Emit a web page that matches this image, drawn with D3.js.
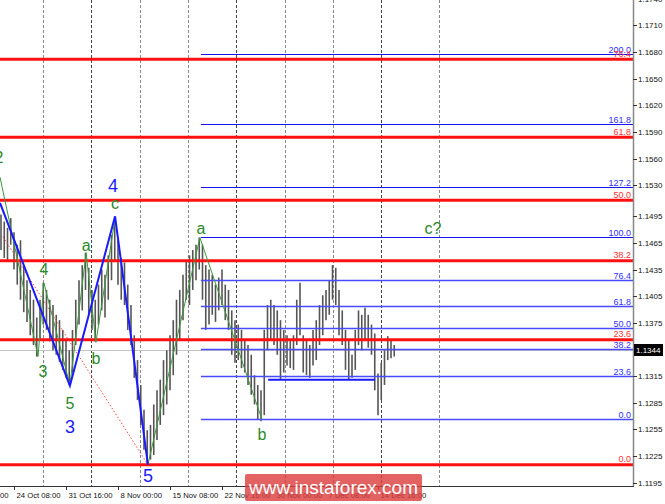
<!DOCTYPE html>
<html><head><meta charset="utf-8">
<script src="https://cdn.jsdelivr.net/npm/d3@7"></script>
<style>html,body{margin:0;padding:0;background:#fff;}svg{display:block;}</style>
</head><body>
<svg id="c" width="665" height="504"></svg>
<script>
// ---- data ----
const highs = [1.1497,1.1489,1.1482,1.1493,1.1477,1.1463,1.1468,1.1440,1.1423,1.1412,1.1401,1.1381,1.1401,1.1420,1.1412,1.1401,1.1395,1.1384,1.1378,1.1367,1.1356,1.1344,1.1367,1.1401,1.1423,1.1440,1.1454,1.1437,1.1412,1.1401,1.1418,1.1435,1.1429,1.1451,1.1474,1.1493,1.1468,1.1448,1.1443,1.1418,1.1395,1.1361,1.1333,1.1305,1.1277,1.1254,1.1260,1.1283,1.1299,1.1311,1.1333,1.1344,1.1361,1.1378,1.1401,1.1412,1.1429,1.1446,1.1451,1.1457,1.1463,1.1471,1.1463,1.1440,1.1435,1.1429,1.1418,1.1426,1.1435,1.1418,1.1412,1.1389,1.1378,1.1373,1.1367,1.1356,1.1350,1.1339,1.1316,1.1305,1.1299,1.1367,1.1395,1.1401,1.1395,1.1389,1.1378,1.1367,1.1361,1.1356,1.1361,1.1401,1.1420,1.1361,1.1356,1.1350,1.1367,1.1378,1.1395,1.1406,1.1412,1.1423,1.1440,1.1437,1.1412,1.1389,1.1367,1.1356,1.1339,1.1367,1.1389,1.1384,1.1392,1.1384,1.1373,1.1363,1.1318,1.1330,1.1344,1.1360,1.1356,1.1350];
const lows = [1.1457,1.1448,1.1444,1.1463,1.1435,1.1418,1.1401,1.1387,1.1376,1.1361,1.1350,1.1337,1.1356,1.1373,1.1367,1.1354,1.1344,1.1339,1.1331,1.1322,1.1313,1.1305,1.1319,1.1350,1.1373,1.1389,1.1412,1.1384,1.1367,1.1354,1.1373,1.1389,1.1381,1.1401,1.1423,1.1444,1.1418,1.1401,1.1395,1.1367,1.1350,1.1313,1.1288,1.1260,1.1232,1.1215,1.1221,1.1226,1.1243,1.1260,1.1271,1.1283,1.1299,1.1316,1.1339,1.1356,1.1378,1.1401,1.1395,1.1412,1.1423,1.1435,1.1401,1.1367,1.1373,1.1384,1.1376,1.1389,1.1395,1.1378,1.1367,1.1339,1.1330,1.1333,1.1324,1.1319,1.1305,1.1294,1.1283,1.1266,1.1264,1.1271,1.1344,1.1356,1.1350,1.1339,1.1311,1.1319,1.1327,1.1324,1.1322,1.1350,1.1361,1.1319,1.1316,1.1313,1.1327,1.1333,1.1350,1.1361,1.1378,1.1384,1.1401,1.1395,1.1361,1.1350,1.1322,1.1311,1.1313,1.1322,1.1350,1.1344,1.1356,1.1347,1.1339,1.1299,1.1271,1.1288,1.1305,1.1333,1.1335,1.1337];

const priceTicks = [1.1740,1.1710,1.1680,1.1650,1.1620,1.1590,1.1560,1.1530,1.1495,1.1465,1.1435,1.1405,1.1375,1.1315,1.1285,1.1255,1.1225,1.1195];
const timeLabels = ["17 Oct 00:00","24 Oct 08:00","31 Oct 16:00","8 Nov 00:00","15 Nov 08:00","22 Nov 16:00","30 Nov 00:00","7 Dec 08:00","14 Dec 16:00"];
const timeLabelIdx = [-12,4,20,36,52,68,84,100,116];
const gridIdx = [12.92,27.69,42.77,57.54,72.31,87.38,102.15,116.92,134.77];

const redFibLevels = ["0.0","23.6","38.2","50.0","61.8","76.4"];
const redFibPrices = [1.1215,1.1356,1.1445,1.1513,1.1584,1.1672];
const blueFibLevels = ["0.0","23.6","38.2","50.0","61.8","76.4","100.0","127.2","161.8","200.0"];
const blueFibPrices = [1.12667,1.13151,1.13455,1.13692,1.13940,1.14233,1.14717,1.15280,1.15989,1.16778];
const blueFibStartIdx = 61.5;

const currentPrice = 1.1344;

const greenWaveIdx = [-0.3,11.4,13.2,21.2,26.2,29.2,35.1];
const greenWavePrice = [1.1539,1.1337,1.1420,1.1305,1.1454,1.1353,1.1493];
const greenWave2Idx = [45.2,61.2,80.3];
const greenWave2Price = [1.1215,1.1471,1.1266];
const blueWaveIdx = [-0.3,21.2,35.1,45.2];
const blueWavePrice = [1.1510,1.1304,1.1495,1.1215];
const redDotIdx = [0.6,44.9];
const redDotPrice = [1.1472,1.1217];
const supportIdx = [82.2,115.1];
const supportPrice = 1.1311;

const greenLabels = ["2","4","3","5","a","b","c","a","b","c?"];
const greenLabelIdx = [-0.6,13.2,12.9,21.2,26.2,29.2,35.1,61.5,80.3,132.9];
const greenLabelPrice = [1.1561,1.1435,1.1320,1.1284,1.1462,1.1335,1.1509,1.1481,1.1249,1.1481];
const blueLabels = ["3","4","5"];
const blueLabelIdx = [21.2,34.5,45.2];
const blueLabelPrice = [1.1258,1.1529,1.1203];

// ---- layout ----
const W = 665, H = 504, plotR = 633, plotB = 486;
const svg = d3.select("#c");
svg.append("rect").attr("width",W).attr("height",H).attr("fill","#fff");

const x = d3.scaleLinear().domain([-1/3.25, 632/3.25]).range([0, plotR]);
const y = d3.scaleLinear().domain([1.11912, 1.17386]).range([plotB, 0]);

const plot = svg.append("g");
plot.append("clipPath").attr("id","clip").append("rect").attr("x",0).attr("y",0).attr("width",plotR).attr("height",plotB);
const g = plot.append("g").attr("clip-path","url(#clip)");

// grid
g.selectAll(".grid").data(gridIdx).join("line")
  .attr("x1",d=>Math.round(x(d))+0.5).attr("x2",d=>Math.round(x(d))+0.5)
  .attr("y1",0).attr("y2",plotB)
  .attr("stroke",(d,i)=> i%3===1 ? "#444" : "#888").attr("stroke-width",1).attr("stroke-dasharray","3,2");

// current price line
g.append("line").attr("x1",0).attr("x2",plotR)
  .attr("y1",Math.round(y(currentPrice))+0.5).attr("y2",Math.round(y(currentPrice))+0.5)
  .attr("stroke","#c4c4c4").attr("stroke-width",1);

// bars
const bars = highs.map((h,i)=>({i,h,l:lows[i]}));
g.selectAll(".bar").data(bars).join("line")
  .attr("x1",d=>x(d.i)).attr("x2",d=>x(d.i))
  .attr("y1",d=>y(d.h)).attr("y2",d=>y(d.l))
  .attr("stroke","#555").attr("stroke-width",1.6);

// blue fib lines
blueFibPrices.forEach((p,k)=>{
  const strong = k>=6;
  g.append("line").attr("x1",x(blueFibStartIdx)).attr("x2",plotR)
    .attr("y1",Math.round(y(p))+0.5).attr("y2",Math.round(y(p))+0.5)
    .attr("stroke",strong?"#1414f0":"#4a4aff").attr("stroke-width",strong?1:1.3);
});
// red lines
redFibPrices.forEach(p=>{
  g.append("line").attr("x1",0).attr("x2",plotR)
    .attr("y1",y(p)).attr("y2",y(p))
    .attr("stroke","#ff1010").attr("stroke-width",3);
});

// support line
g.append("line").attr("x1",x(supportIdx[0])).attr("x2",x(supportIdx[1]))
  .attr("y1",y(supportPrice)).attr("y2",y(supportPrice))
  .attr("stroke","#1a1aff").attr("stroke-width",2);

// red dotted
g.append("line").attr("x1",x(redDotIdx[0])).attr("x2",x(redDotIdx[1]))
  .attr("y1",y(redDotPrice[0])).attr("y2",y(redDotPrice[1]))
  .attr("stroke","#ff4040").attr("stroke-width",1).attr("stroke-dasharray","1.5,2");

const line = d3.line().x(d=>x(d[0])).y(d=>y(d[1]));
g.append("path").attr("d",line(greenWaveIdx.map((d,i)=>[d,greenWavePrice[i]])))
  .attr("fill","none").attr("stroke","#3a9a3a").attr("stroke-width",1);
g.append("path").attr("d",line(greenWave2Idx.map((d,i)=>[d,greenWave2Price[i]])))
  .attr("fill","none").attr("stroke","#3a9a3a").attr("stroke-width",1);
g.append("path").attr("d",line(blueWaveIdx.map((d,i)=>[d,blueWavePrice[i]])))
  .attr("fill","none").attr("stroke","#1a1aff").attr("stroke-width",2);

// fib text labels
const fibFont = "Liberation Sans, Arial, sans-serif";
blueFibPrices.forEach((p,k)=>{
  svg.append("text").attr("x",631).attr("y",Math.round(y(p))-1.5)
    .attr("text-anchor","end").attr("font-family",fibFont).attr("font-size",9)
    .attr("fill","#3030ff").text(blueFibLevels[k]);
});
redFibPrices.forEach((p,k)=>{
  svg.append("text").attr("x",631).attr("y",y(p)-2.5)
    .attr("text-anchor","end").attr("font-family",fibFont).attr("font-size",9)
    .attr("fill","#ff3030").text(redFibLevels[k]);
});

// wave labels
const lblFont = "Liberation Sans, Arial, sans-serif";
greenLabels.forEach((t,k)=>{
  g.append("text").attr("x",x(greenLabelIdx[k])).attr("y",y(greenLabelPrice[k]))
    .attr("text-anchor","middle").attr("dominant-baseline","central")
    .attr("font-family",lblFont).attr("font-size",16).attr("fill","#2a8a2a").text(t);
});
blueLabels.forEach((t,k)=>{
  svg.append("text").attr("x",x(blueLabelIdx[k])).attr("y",y(blueLabelPrice[k]))
    .attr("text-anchor","middle").attr("dominant-baseline","central")
    .attr("font-family",lblFont).attr("font-size",18).attr("fill","#1a1aff").text(t);
});

// right axis
svg.append("line").attr("x1",plotR+0.5).attr("x2",plotR+0.5).attr("y1",0).attr("y2",plotB)
  .attr("stroke","#888").attr("stroke-width",1.5);
const axFont = "Liberation Sans, Arial, sans-serif";
priceTicks.forEach(v=>{
  const yy = Math.round(y(v))+0.5;
  svg.append("line").attr("x1",plotR).attr("x2",plotR+4).attr("y1",yy).attr("y2",yy).attr("stroke","#333");
  svg.append("text").attr("x",plotR+5).attr("y",yy).attr("dominant-baseline","central")
    .attr("font-family",axFont).attr("font-size",8).attr("fill","#111").text(v.toFixed(4));
});
// current price box
const cy = Math.round(y(currentPrice));
svg.append("rect").attr("x",plotR+1).attr("y",cy-6).attr("width",29).attr("height",12).attr("fill","#000");
svg.append("text").attr("x",plotR+3).attr("y",cy).attr("dominant-baseline","central")
  .attr("font-family",axFont).attr("font-size",8).attr("fill","#fff").text(currentPrice.toFixed(4));

// bottom axis
svg.append("line").attr("x1",0).attr("x2",plotR+1).attr("y1",plotB+0.5).attr("y2",plotB+0.5)
  .attr("stroke","#333").attr("stroke-width",1);
timeLabels.forEach((t,k)=>{
  const xx = Math.round(x(timeLabelIdx[k]))+0.5;
  svg.append("line").attr("x1",xx).attr("x2",xx).attr("y1",plotB).attr("y2",plotB+4).attr("stroke","#333");
  svg.append("text").attr("x",xx+2).attr("y",498).attr("font-family",axFont).attr("font-size",7.7)
    .attr("fill","#111").text(t);
});

// watermark
svg.append("rect").attr("x",245).attr("y",474).attr("width",177).attr("height",27).attr("rx",2)
  .attr("fill","#dc3c3c").attr("opacity",0.8);
svg.append("text").attr("x",333.5).attr("y",494).attr("text-anchor","middle")
  .attr("font-family","Liberation Sans, Arial, sans-serif").attr("font-size",19).attr("fill","#fff")
  .text("www.instaforex.com");
</script>
</body></html>
